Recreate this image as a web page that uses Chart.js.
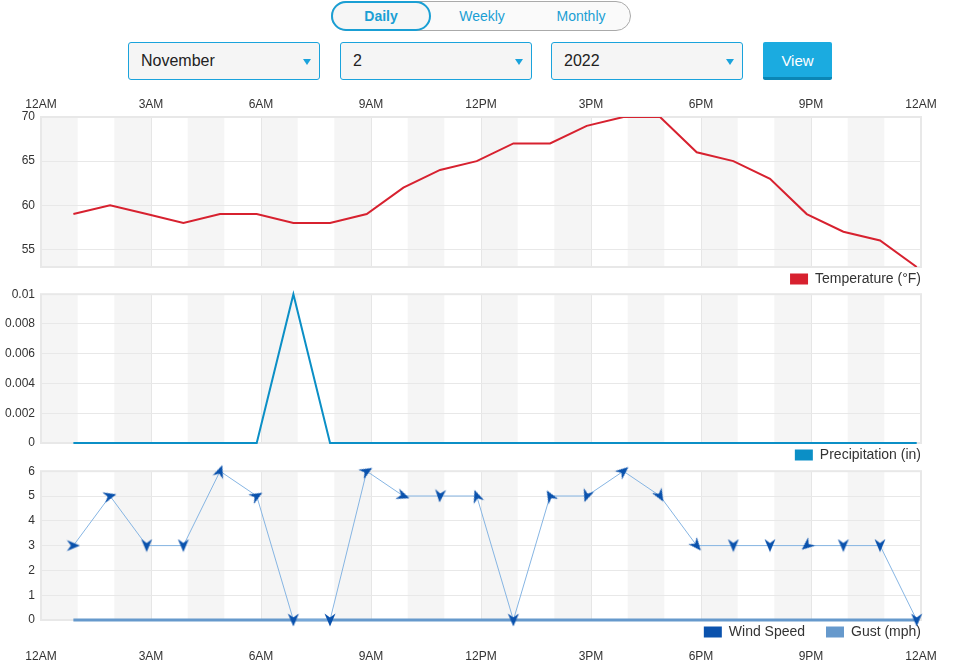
<!DOCTYPE html>
<html lang="en">
  <head>
    <meta charset="UTF-8" />
    <title>Daily weather</title>
    <script src="https://cdn.jsdelivr.net/npm/chart.js"></script>
    <style>
      body { margin: 0; width: 960px; height: 661px; position: relative; overflow: hidden;
        font-family: "Liberation Sans", Arial, sans-serif; background: #fff; }
      .toggle { position: absolute; left: 331px; top: 1px; width: 298px; height: 28px;
        border: 1px solid #aaa; border-radius: 16px; background: #fafafa; }
      .toggle span { position: absolute; top: 0; width: 100px; height: 28px; line-height: 28px;
        text-align: center; font-size: 14px; color: #1a9fd4; }
      .toggle .on { left: -1px; top: -1px; width: 96px; height: 26px; line-height: 26px;
        border: 2px solid #1a9fd4; border-radius: 15px; font-weight: bold; background: #f6f6f6; }
      .sel { position: absolute; top: 42px; width: 189px; height: 36px; border: 1px solid #1aa3dc;
        border-radius: 3px; background: #f5f5f5; font-size: 16px; color: #222; line-height: 36px;
        padding-left: 12px; box-sizing: content-box; }
      .sel::after { content: ""; position: absolute; right: 8px; top: 16px; border-left: 4.5px solid transparent;
        border-right: 4.5px solid transparent; border-top: 6px solid #1aa3dc; }
      .btn { position: absolute; left: 763px; top: 42px; width: 69px; height: 35px; background: #1babe0;
        border-bottom: 3px solid #0b86b5; border-radius: 2px; color: #fff; font-size: 15px;
        text-align: center; line-height: 37px; }
      canvas { position: absolute; left: 0; }
    </style>
  </head>
  <body>
    <div class="toggle">
      <span class="on">Daily</span>
      <span style="left: 100px">Weekly</span>
      <span style="left: 199px">Monthly</span>
    </div>
    <div class="sel" style="left: 128px; width: 178px">November</div>
    <div class="sel" style="left: 340px; width: 178px">2</div>
    <div class="sel" style="left: 551px; width: 178px">2022</div>
    <div class="btn">View</div>

    <canvas id="temp" width="960" height="204" style="top: 90px"></canvas>
    <canvas id="rain" width="960" height="189" style="top: 281px"></canvas>
    <canvas id="wind" width="960" height="203" style="top: 458px"></canvas>

    <script>
      // observation times (local), Nov 2 2022
      const times = ["00:53", "01:53", "02:53", "03:53", "04:53", "05:53", "06:53", "07:53",
        "08:53", "09:53", "10:53", "11:53", "12:53", "13:53", "14:53", "15:53",
        "16:53", "17:53", "18:53", "19:53", "20:53", "21:53", "22:53", "23:53"];
      const temperature = [59, 60, 59, 58, 59, 59, 58, 58, 59, 62, 64, 65,
        67, 67, 69, 70, 70, 66, 65, 63, 59, 57, 56, 53];
      const precipitation = [0, 0, 0, 0, 0, 0, 0.01, 0, 0, 0, 0, 0,
        0, 0, 0, 0, 0, 0, 0, 0, 0, 0, 0, 0];
      const windSpeed = [3, 5, 3, 3, 6, 5, 0, 0, 6, 5, 5, 5,
        0, 5, 5, 6, 5, 3, 3, 3, 3, 3, 3, 0];
      const windDir = [90, 75, 180, 180, 20, 60, 180, 180, 60, 110, 185, 340,
        180, 330, 200, 50, 150, 140, 180, 180, 230, 180, 180, 180];
      const gust = [0, 0, 0, 0, 0, 0, 0, 0, 0, 0, 0, 0,
        0, 0, 0, 0, 0, 0, 0, 0, 0, 0, 0, 0];
      const hourTicks = [0, 3, 6, 9, 12, 15, 18, 21, 24];

      const hours = times.map((t) => {
        const [h, m] = t.split(":").map(Number);
        return h + m / 60;
      });
      const pts = (vals) => vals.map((v, i) => ({ x: hours[i], y: v }));

      const hourLabel = (v) => {
        const h = v % 24;
        if (h === 0) return "12AM";
        if (h === 12) return "12PM";
        return h < 12 ? h + "AM" : h - 12 + "PM";
      };

      Chart.defaults.font.family = '"Liberation Sans", Arial, sans-serif';
      Chart.defaults.font.size = 12;
      Chart.defaults.color = "#333";
      Chart.defaults.animation = false;
      Chart.defaults.devicePixelRatio = 1;

      // alternate hour shading + frame round the plot
      const bands = {
        id: "bands",
        beforeDraw(chart) {
          const { ctx, chartArea: a, scales } = chart;
          ctx.save();
          ctx.fillStyle = "#f5f5f5";
          for (let h = 0; h < 24; h += 2) {
            const x0 = scales.x.getPixelForValue(h);
            const x1 = scales.x.getPixelForValue(h + 1);
            ctx.fillRect(x0, a.top, x1 - x0, a.bottom - a.top);
          }
          ctx.restore();
        },
        beforeDatasetsDraw(chart) {
          const { ctx, chartArea: a } = chart;
          ctx.save();
          ctx.strokeStyle = "#e8e8e8";
          ctx.lineWidth = 2;
          ctx.strokeRect(a.left, a.top, a.right - a.left, a.bottom - a.top);
          ctx.restore();
        },
      };

      function xAxis(position, show, height, weight) {
        return {
          type: "linear",
          position,
          min: 0,
          max: 24,
          weight,
          afterBuildTicks: (s) => { s.ticks = hourTicks.map((v) => ({ value: v })); },
          ticks: { display: show, callback: hourLabel, maxRotation: 0, padding: position === "top" ? 5 : 2 },
          grid: { color: "#e6e6e6", drawTicks: false },
          border: { display: false },
          afterFit: (s) => { s.height = height; },
        };
      }

      function yAxis(min, max, step, filter) {
        return {
          min,
          max,
          ticks: { stepSize: step, padding: 6, callback: (v) => String(parseFloat(v.toFixed(4))) },
          afterBuildTicks: filter ? (s) => { s.ticks = s.ticks.filter((t) => t.value % step === 0); } : undefined,
          grid: { color: "#e8e8e8", drawTicks: false },
          border: { display: false },
          afterFit: (s) => { s.width = 41; },
        };
      }

      const legend = (gen) => ({
        position: "bottom",
        align: "end",
        labels: {
          boxWidth: 18,
          boxHeight: 11,
          padding: 3,
          color: "#333",
          font: { size: 14 },
          generateLabels: gen,
        },
      });

      const solidBoxes = (chart) =>
        Chart.defaults.plugins.legend.labels.generateLabels(chart).map((l, i) => {
          l.strokeStyle = l.fillStyle;
          l.lineWidth = 0;
          if (i === 0 && chart.data.datasets.length > 1) l.text += "\u2002\u2002 ";
          return l;
        });

      // nudge legend to the plot's right edge and a touch lower
      const legendNudge = {
        id: "legendNudge",
        afterLayout(chart) {
          const lg = chart.legend;
          if (lg && !lg._nudged) {
            lg._nudged = true;
            lg.left += 3;
            lg.right += 3;
            lg.top += 2;
            lg.bottom += 2;
          }
        },
      };

      const base = (padTop) => ({
        responsive: false,
        layout: { padding: { top: padTop, right: 39, left: 0, bottom: 0 } },
        plugins: { tooltip: { enabled: false } },
        events: [],
      });

      new Chart(document.getElementById("temp"), {
        type: "line",
        data: {
          datasets: [{
            label: "Temperature (°F)",
            data: pts(temperature),
            borderColor: "#d7212f",
            backgroundColor: "#d7212f",
            borderWidth: 2,
            pointRadius: 0,
            tension: 0,
          }],
        },
        options: {
          ...base(0),
          scales: {
            x: xAxis("top", true, 27, 0),
            y: yAxis(Math.min(...temperature), Math.max(...temperature), 5, true),
          },
          plugins: { ...base(0).plugins, legend: legend(solidBoxes) },
        },
        plugins: [bands, legendNudge],
      });

      new Chart(document.getElementById("rain"), {
        type: "line",
        data: {
          datasets: [{
            label: "Precipitation (in)",
            data: pts(precipitation),
            borderColor: "#0b8fc6",
            backgroundColor: "#0b8fc6",
            borderWidth: 2,
            pointRadius: 0,
            tension: 0,
            clip: false,
          }],
        },
        options: {
          ...base(4),
          scales: {
            x: xAxis("bottom", false, 0, 0),
            y: yAxis(0, 0.01, 0.002, false),
          },
          plugins: { ...base(4).plugins, legend: legend(solidBoxes) },
        },
        plugins: [bands, legendNudge],
      });

      // wind arrow marker, drawn pointing up, rotated per point
      const arrow = document.createElement("canvas");
      arrow.width = 14;
      arrow.height = 14;
      const ac = arrow.getContext("2d");
      ac.fillStyle = "#0a52ad";
      ac.beginPath();
      ac.moveTo(7, 0.5);
      ac.lineTo(12.5, 13.5);
      ac.lineTo(7, 9.5);
      ac.lineTo(1.5, 13.5);
      ac.closePath();
      ac.fill();

      new Chart(document.getElementById("wind"), {
        type: "line",
        data: {
          datasets: [
            {
              label: "Wind Speed",
              data: pts(windSpeed),
              borderColor: "#86b5e3",
              backgroundColor: "#0a52ad",
              borderWidth: 1,
              pointStyle: arrow,
              pointRotation: windDir,
              pointRadius: 6,
              clip: false,
              tension: 0,
            },
            {
              label: "Gust (mph)",
              data: pts(gust),
              borderColor: "#6699cc",
              backgroundColor: "#6699cc",
              borderWidth: 3,
              pointRadius: 0,
              tension: 0,
              clip: false,
            },
          ],
        },
        options: {
          ...base(12),
          scales: {
            x: xAxis("bottom", true, 14, 2000),
            y: yAxis(0, 6, 1, false),
          },
          plugins: { ...base(12).plugins, legend: legend(solidBoxes) },
        },
        plugins: [bands, legendNudge],
      });
    </script>
  </body>
</html>
